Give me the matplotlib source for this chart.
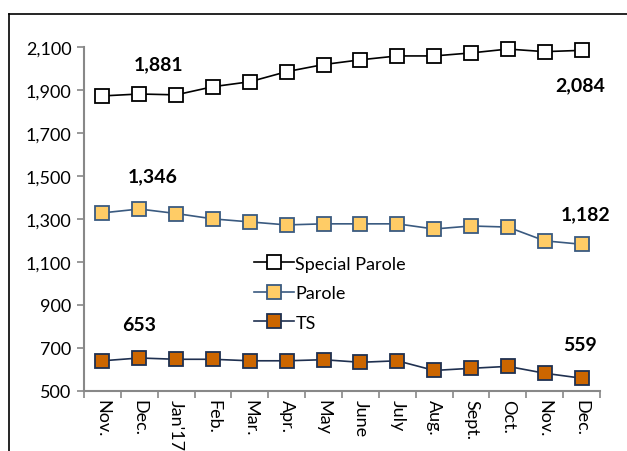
import matplotlib.pyplot as plt
from matplotlib.lines import Line2D

# Data
months = ["Nov.", "Dec.", "Jan'17", "Feb.", "Mar.", "Apr.", "May", "June",
          "July", "Aug.", "Sept.", "Oct.", "Nov.", "Dec."]
special_parole = [1872, 1881, 1877, 1915, 1938, 1985, 2018, 2040,
                  2058, 2058, 2072, 2090, 2078, 2084]
parole = [1328, 1346, 1325, 1300, 1286, 1272, 1277, 1277,
          1277, 1253, 1267, 1262, 1198, 1182]
ts = [640, 653, 647, 647, 640, 640, 645, 633,
      640, 595, 605, 614, 582, 559]

plt.rcParams["font.family"] = ["Lato", "DejaVu Sans"]

fig = plt.figure(figsize=(6.27, 4.52), dpi=100)
ax = fig.add_axes([0.134, 0.133, 0.823, 0.761])

x = range(len(months))
ax.plot(x, special_parole, marker="s", markersize=10, color="black", lw=1.2,
        markerfacecolor="white", markeredgecolor="black", markeredgewidth=1.3,
        label="Special Parole", clip_on=False)
ax.plot(x, parole, marker="s", markersize=10, color="#3A5A80", lw=1.2,
        markerfacecolor="#FFCC66", markeredgecolor="#3A5A80", markeredgewidth=1.3,
        label="Parole", clip_on=False)
ax.plot(x, ts, marker="s", markersize=10, color="#1F3050", lw=1.2,
        markerfacecolor="#CC6600", markeredgecolor="#1F3050", markeredgewidth=1.3,
        label="TS", clip_on=False)

ax.set_ylim(500, 2100)
ax.set_xlim(-0.5, len(months) - 0.5)
ax.set_yticks(range(500, 2101, 200))
ax.set_yticklabels([f"{v:,}" for v in range(500, 2101, 200)], fontsize=13)
ax.set_xticks(x)
ax.set_xticklabels(months, rotation=270, fontsize=13)
ax.set_xticks([i - 0.5 for i in range(len(months) + 1)], minor=True)
ax.tick_params(axis="x", which="major", length=0, pad=6)
ax.tick_params(axis="x", which="minor", length=5, color="#888888", width=1.2)
ax.tick_params(axis="y", length=5, color="#888888", width=1.2, pad=4)

for s in ["top", "right"]:
    ax.spines[s].set_visible(False)
for s in ["left", "bottom"]:
    ax.spines[s].set_color("#888888")
    ax.spines[s].set_linewidth(1.5)

# Data labels for first and last highlighted points
lab = dict(fontsize=14, fontweight="bold", ha="center", va="center")
ax.annotate(f"{special_parole[1]:,}", (1, special_parole[1]), xytext=(14, 22),
            textcoords="offset points", **lab)
ax.annotate(f"{special_parole[-1]:,}", (13, special_parole[-1]), xytext=(-1, -25),
            textcoords="offset points", **lab)
ax.annotate(f"{parole[1]:,}", (1, parole[1]), xytext=(10, 24),
            textcoords="offset points", **lab)
ax.annotate(f"{parole[-1]:,}", (13, parole[-1]), xytext=(3, 22),
            textcoords="offset points", **lab)
ax.annotate(f"{ts[1]}", (1, ts[1]), xytext=(0, 24),
            textcoords="offset points", **lab)
ax.annotate(f"{ts[-1]}", (13, ts[-1]), xytext=(-1, 24),
            textcoords="offset points", **lab)

ax.legend(loc="upper left", bbox_to_anchor=(0.405, 0.432), bbox_transform=fig.transFigure,
          frameon=False, fontsize=13, handlelength=2.2, handletextpad=0.1,
          labelspacing=0.75, borderpad=0, borderaxespad=0)

# outer chart border (top and left visible)
fig.add_artist(Line2D([9 / 627, 1.0], [1 - 15 / 452, 1 - 15 / 452],
                      transform=fig.transFigure, color="black", lw=1.2))
fig.add_artist(Line2D([9 / 627, 9 / 627], [1 - 15 / 452, 0.0],
                      transform=fig.transFigure, color="black", lw=1.2))

plt.savefig("out.png", dpi=100)
